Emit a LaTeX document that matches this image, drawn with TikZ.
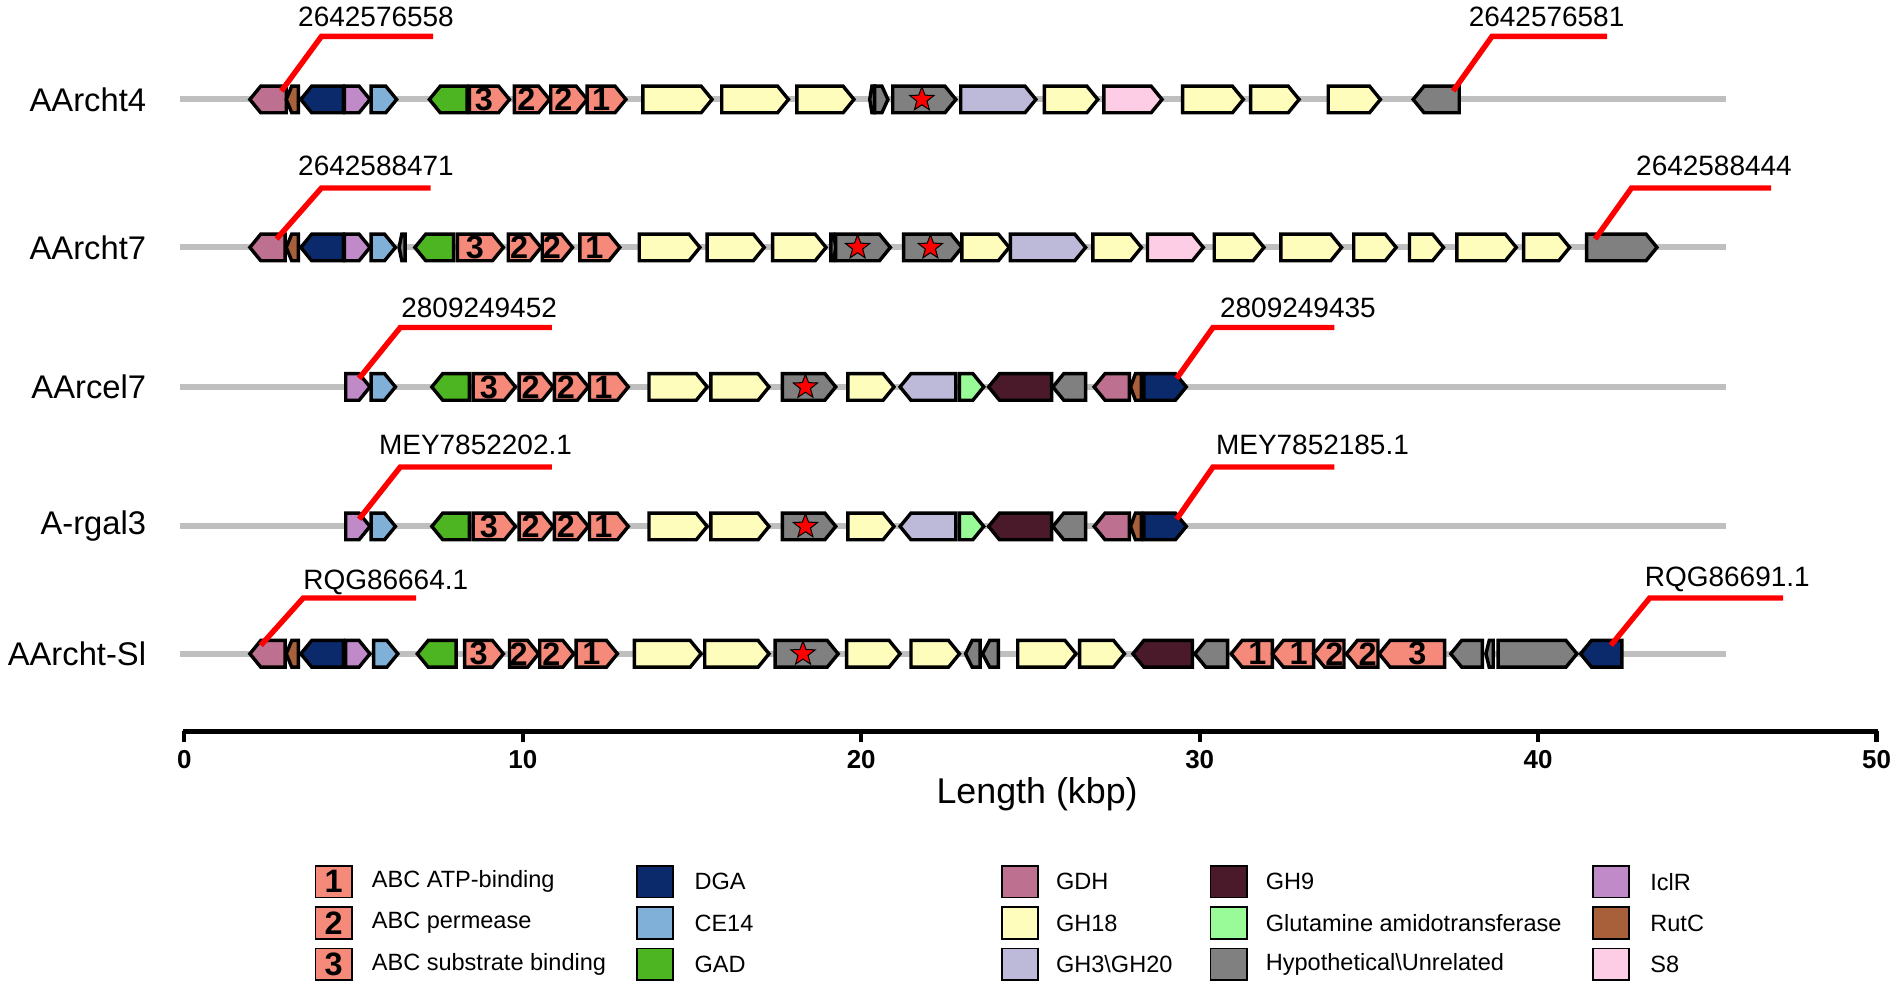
\documentclass[tikz,border=0pt]{standalone}
\usepackage{fontspec}
\setmainfont{Liberation Sans}
\usetikzlibrary{shapes.geometric}
\definecolor{cGDH}{RGB}{189,112,144}
\definecolor{cRutC}{RGB}{168,96,58}
\definecolor{cDGA}{RGB}{11,42,107}
\definecolor{cIclR}{RGB}{192,138,200}
\definecolor{cCE}{RGB}{128,176,216}
\definecolor{cGAD}{RGB}{76,181,33}
\definecolor{cABC}{RGB}{245,138,122}
\definecolor{cGHa}{RGB}{255,253,187}
\definecolor{cGHb}{RGB}{189,186,217}
\definecolor{cSE}{RGB}{252,205,229}
\definecolor{cHyp}{RGB}{128,128,128}
\definecolor{cGHc}{RGB}{75,26,42}
\definecolor{cGlu}{RGB}{152,251,152}
\newcommand{\gene}[6]{%
  \pgfmathsetmacro{\hl}{min(9,0.45*(#2-#1))}
  \if#5f
    \filldraw[genebox,fill=#4] (#1,#3-11) -- (#2-\hl,#3-11) -- (#2,#3) -- (#2-\hl,#3+11) -- (#1,#3+11) -- cycle;
    \node[numlab] at ({(#1+#2-\hl)/2},#3) {#6};
  \else
    \filldraw[genebox,fill=#4] (#2,#3-11) -- (#1+\hl,#3-11) -- (#1,#3) -- (#1+\hl,#3+11) -- (#2,#3+11) -- cycle;
    \node[numlab] at ({(#1+#2+\hl)/2},#3) {#6};
  \fi}
\begin{document}
\begin{tikzpicture}[x=0.0125cm,y=-0.0125cm]
  \tikzset{genebox/.style = {draw=black,line width=1pt}}
  \tikzset{numlab/.style = {font=\fontsize{9.5}{9.5}\selectfont\bfseries,inner sep=0pt}}
  \tikzset{backbone/.style = {line width=5*0.0125cm,color=black!25}}
  \tikzset{callout/.style = {line width=1.6pt,red,line cap=butt}}
  \tikzset{acc/.style = {font=\fontsize{8.2}{9}\selectfont,inner sep=0pt}}
  \tikzset{rowname/.style = {font=\fontsize{9.6}{10}\selectfont,anchor=east,inner sep=0pt}}
  \tikzset{legbox/.style = {draw=black,line width=0.5pt,minimum width=30*0.0125cm,minimum height=26*0.0125cm,inner sep=0pt}}
  \tikzset{legtext/.style = {font=\fontsize{6.9}{7}\selectfont,anchor=west,inner sep=0pt}}
  \tikzset{hit/.style = {star,star points=5,star point ratio=2.4,fill=red,draw=black,line width=0.3pt,minimum size=21*0.0125cm,inner sep=0pt}}
  \useasboundingbox (0,0) rectangle (1568,814);

  % backbones and names
  \foreach \yy/\nm/\lab in {82/r1/AArcht4,204/r2/AArcht7,319/r3/AArcel7,434/r4/A-rgal3,539/r5/AArcht-Sl} {
    \draw[backbone] (148,\yy) -- (1423,\yy);
    \node[rowname] (\nm) at (121,\yy) {\lab};
  }

  % AArcht4
  \foreach \a/\b/\c/\d/\t in {206/236/cGDH/r/,236/246/cRutC/r/,248/283/cDGA/r/,284/305/cIclR/f/,306/327/cCE/f/,
      354/385/cGAD/r/,387/420/cABC/f/3,424/453/cABC/f/2,454/484/cABC/f/2,484/516/cABC/f/1,
      530/587/cGHa/f/,595/650/cGHa/f/,657/704/cGHa/f/,717/721/cHyp/r/,721/732/cHyp/f/,736/788/cHyp/f/,
      792/854/cGHb/f/,861/905/cGHa/f/,910/958/cSE/f/,975/1025/cGHa/f/,1031/1071/cGHa/f/,1095/1138/cGHa/f/,1165/1203/cHyp/r/}
    {\gene{\a}{\b}{82}{\c}{\d}{\t}}
  \node[hit] (s1) at (760,82) {};

  % AArcht7
  \foreach \a/\b/\c/\d/\t in {206/235/cGDH/r/,236/246/cRutC/r/,248/283/cDGA/r/,284/305/cIclR/f/,306/326/cCE/f/,329/334/cHyp/r/,
      342/374/cGAD/r/,377/415/cABC/f/3,419/446/cABC/f/2,447/472/cABC/f/2,478/511/cABC/f/1,
      527/577/cGHa/f/,583/630/cGHa/f/,637/681/cGHa/f/,685/689/cHyp/f/,689/734/cHyp/f/,745/793/cHyp/f/,793/832/cGHa/f/,
      833/895/cGHb/f/,901/941/cGHa/f/,946/992/cSE/f/,1001/1042/cGHa/f/,1056/1106/cGHa/f/,1116/1151/cGHa/f/,
      1162/1190/cGHa/f/,1201/1250/cGHa/f/,1256/1294/cGHa/f/,1308/1366/cHyp/f/}
    {\gene{\a}{\b}{204}{\c}{\d}{\t}}
  \node[hit] (s2) at (707,204) {};
  \node[hit] (s3) at (767,204) {};

  % AArcel7 and A-rgal3
  \foreach \yy in {319,434} {
    \foreach \a/\b/\c/\d/\t in {285/305/cIclR/f/,306/326/cCE/f/,356/387/cGAD/r/,390/425/cABC/f/3,428/456/cABC/f/2,
        457/485/cABC/f/2,486/518/cABC/f/1,535/583/cGHa/f/,586/634/cGHa/f/,645/689/cHyp/f/,699/737/cGHa/f/,
        742/788/cGHb/r/,791/811/cGlu/f/,815/867/cGHc/r/,868/895/cHyp/r/,902/931/cGDH/r/,932/941/cRutC/r/,943/978/cDGA/f/}
      {\gene{\a}{\b}{\yy}{\c}{\d}{\t}}
    \node[hit] at (664,\yy) {};
  }

  % AArcht-Sl
  \foreach \a/\b/\c/\d/\t in {206/235/cGDH/r/,236/246/cRutC/r/,248/283/cDGA/r/,285/305/cIclR/f/,308/328/cCE/f/,
      344/376/cGAD/r/,383/415/cABC/f/3,420/444/cABC/f/2,445/473/cABC/f/2,475/509/cABC/f/1,
      523/578/cGHa/f/,581/634/cGHa/f/,639/691/cHyp/f/,698/742/cGHa/f/,751/791/cGHa/f/,796/808/cHyp/r/,810/823/cHyp/r/,
      839/887/cGHa/f/,890/927/cGHa/f/,934/983/cGHc/r/,985/1012/cHyp/r/,1015/1049/cABC/r/1,1049/1083/cABC/r/1,
      1083/1108/cABC/r/2,1110/1136/cABC/r/2,1137/1191/cABC/r/3,1196/1222/cHyp/r/,1225/1231/cHyp/r/,1235/1300/cHyp/f/,1303/1337/cDGA/r/}
    {\gene{\a}{\b}{539}{\c}{\d}{\t}}
  \node[hit] (s5) at (662,539) {};

  % callouts
  \foreach \gx/\gy/\kx/\ky/\ex/\tx/\ty/\lab in {
      232/75/265/30/357/310/14/2642576558,1198/75/1230/30/1325/1275/14/2642576581,
      228/197/265/155/355/310/137/2642588471,1315/197/1345/155/1460/1413/137/2642588444,
      296/312/330/270/455/395/254/2809249452,970/312/1000/270/1100/1070/254/2809249435,
      296/428/330/385/455/392/367/MEY7852202.1,970/428/1000/385/1100/1082/367/MEY7852185.1,
      215/532/250/493/343/318/480/RQG86664.1,1328/532/1360/493/1470/1424/478/RQG86691.1} {
    \coordinate (g) at (\gx,\gy);
    \coordinate (k) at (\kx,\ky);
    \coordinate (e) at (\ex,\ky);
    \draw[callout] (g) -- (k) -- (e);
    \node[acc] (a\lab) at (\tx,\ty) {\lab};
  }

  % axis
  \draw[line width=1.4pt] (151,603) -- (1548,603);
  \foreach \k in {0,10,...,50} {
    \draw[line width=1.2pt] ({152+27.9*\k},603) -- ({152+27.9*\k},612);
    \node[font=\fontsize{7.6}{8}\selectfont\bfseries] (t\k) at ({152+27.9*\k},626) {\k};
  }
  \node[font=\fontsize{10.5}{12}\selectfont] (axlab) at (855,655) {Length (kbp)};

  % legend
  \foreach \n/\lab [count=\i] in {1/ABC ATP-binding,2/ABC permease,3/ABC substrate binding} {
    \node[legbox,fill=cABC,font=\fontsize{9.5}{9}\selectfont\bfseries] (la\i) at (275,693+34*\i) {\n};
    \node[legtext] at (306,693+34*\i) {\lab};
  }
  \foreach \c/\lab [count=\i] in {cDGA/DGA,cCE/CE14,cGAD/GAD} {
    \node[legbox,fill=\c] (lb\i) at (540,693+34*\i) {};
    \node[legtext] at (572,693+34*\i) {\lab};
  }
  \foreach \c/\lab [count=\i] in {cGDH/GDH,cGHa/GH18,cGHb/GH3\textbackslash GH20} {
    \node[legbox,fill=\c] (lc\i) at (841,693+34*\i) {};
    \node[legtext] at (870,693+34*\i) {\lab};
  }
  \foreach \c/\lab [count=\i] in {cGHc/GH9,cGlu/Glutamine amidotransferase,cHyp/Hypothetical\textbackslash Unrelated} {
    \node[legbox,fill=\c] (ld\i) at (1013,693+34*\i) {};
    \node[legtext] at (1043,693+34*\i) {\lab};
  }
  \foreach \c/\lab [count=\i] in {cIclR/IclR,cRutC/RutC,cSE/S8} {
    \node[legbox,fill=\c] (le\i) at (1328,693+34*\i) {};
    \node[legtext] at (1360,693+34*\i) {\lab};
  }
\end{tikzpicture}
\end{document}
